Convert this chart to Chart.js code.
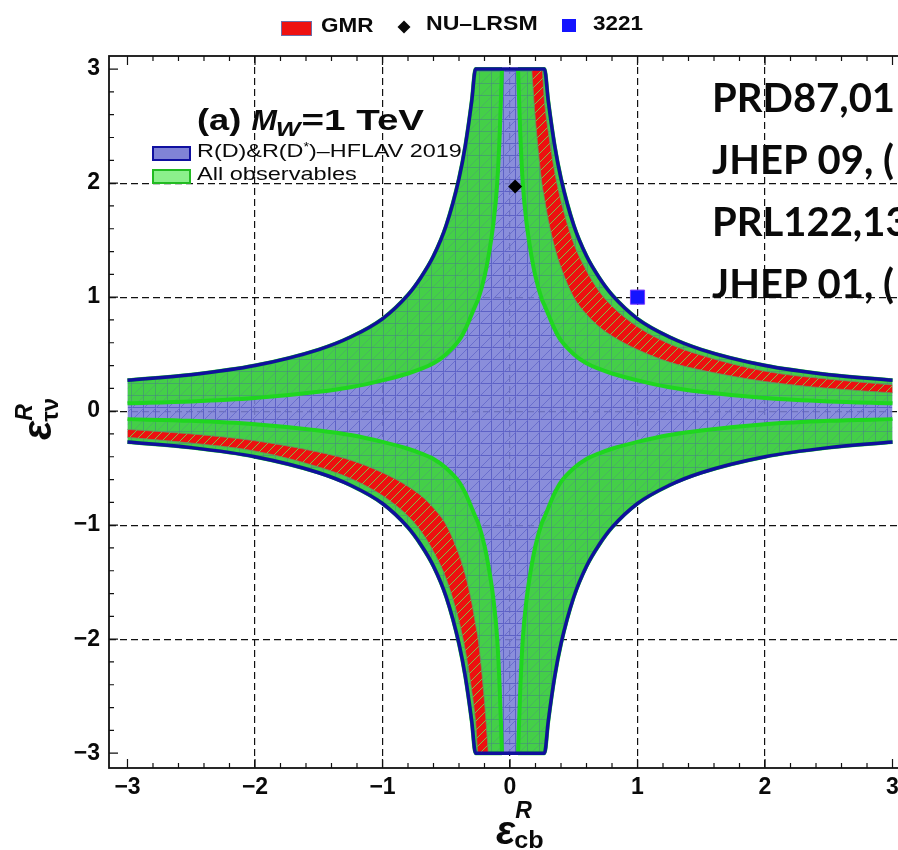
<!DOCTYPE html>
<html>
<head>
<meta charset="utf-8">
<script src="https://cdn.jsdelivr.net/npm/chart.js@4.4.1/dist/chart.umd.min.js"></script>
<style>
  html, body { margin: 0; padding: 0; background: #fff; overflow: hidden; }
  #wrap { width: 923px; height: 850px; }
</style>
</head>
<body>
<div id="wrap"><canvas id="regionChart" width="923" height="850"></canvas></div>
<script>
// boundaries for x > 0 (first quadrant);
// the other quadrants are mirrored copies of the same samples
const xGrid      = [0.063, 0.08, 0.1, 0.13, 0.17, 0.2, 0.25, 0.27, 0.3, 0.35, 0.4, 0.5, 0.6, 0.7, 0.8, 1.0, 1.25, 1.5, 2.0, 2.5, 3.0];
const outerEdge  = [3, 3, 3, 3, 3, 3, 3, 3, 2.72, 2.33, 2.04, 1.63, 1.36, 1.17, 1.02, 0.81, 0.65, 0.54, 0.40, 0.32, 0.27];
const greenInner = [3, 2.45, 2.0, 1.65, 1.35, 1.18, 0.98, 0.93, 0.85, 0.72, 0.62, 0.50, 0.42, 0.37, 0.33, 0.27, 0.21, 0.17, 0.115, 0.085, 0.07];

const xRed     = [0.17, 0.2, 0.25, 0.27, 0.3, 0.35, 0.4, 0.5, 0.6, 0.7, 0.8, 1.0, 1.25, 1.5, 2.0, 2.5, 3.0];
const redOuter = [3, 3, 3, 2.72, 2.45, 2.10, 1.84, 1.47, 1.23, 1.05, 0.92, 0.74, 0.59, 0.49, 0.35, 0.28, 0.23];
const redInner = [3, 2.55, 2.0, 1.87, 1.68, 1.44, 1.26, 1.00, 0.85, 0.74, 0.66, 0.54, 0.43, 0.36, 0.26, 0.20, 0.16];

const nuLrsm = [0.04, 1.97];
const model3221 = [1.0, 1.0];

const tickValues = [-3, -2, -1, 0, 1, 2, 3];
const tickLabels = ['−3', '−2', '−1', '0', '1', '2', '3'];
const refLines = ['PRD87,01', 'JHEP 09, (', 'PRL122,13', 'JHEP 01, ('];

function pts(xs, ys, sx, sy) {
  const p = xs.map((x, i) => ({ x: sx * x, y: sy * ys[i] }));
  return sx < 0 ? p.reverse() : p;
}

function meshPattern(base, line, diag) {
  const c = document.createElement('canvas');
  c.width = 12; c.height = 12;
  const g = c.getContext('2d');
  g.fillStyle = base; g.fillRect(0, 0, 12, 12);
  g.strokeStyle = line; g.lineWidth = 1;
  g.beginPath();
  g.moveTo(0, 11.5); g.lineTo(12, 11.5);
  g.moveTo(11.5, 0); g.lineTo(11.5, 12);
  g.stroke();
  g.strokeStyle = diag;
  g.beginPath(); g.moveTo(0, 12); g.lineTo(12, 0); g.stroke();
  return g.createPattern(c, 'repeat');
}

function stripePattern() {
  const c = document.createElement('canvas');
  c.width = 9; c.height = 9;
  const g = c.getContext('2d');
  g.fillStyle = '#ee1010'; g.fillRect(0, 0, 9, 9);
  g.strokeStyle = '#7fbf45'; g.lineWidth = 1;
  g.beginPath(); g.moveTo(0, 9); g.lineTo(9, 0); g.stroke();
  return g.createPattern(c, 'repeat');
}

const bluePat = meshPattern('rgba(122,126,214,0.88)', '#5d61c6', '#6a6ecd');
const greenPat = meshPattern('#44cf48', 'rgba(70,135,130,0.55)', 'rgba(80,150,120,0.45)');
const redPat = stripePattern();

const blueTop = pts(xGrid, outerEdge, -1, 1).concat(pts(xGrid, outerEdge, 1, 1));
const blueBottom = blueTop.map(p => ({ x: p.x, y: -p.y }));

const curve = { pointRadius: 0, cubicInterpolationMode: 'monotone', showLine: true };
const datasets = [
  { ...curve, data: blueBottom, borderWidth: 0, fill: false, order: 9 },
  { ...curve, data: blueTop, borderWidth: 0, fill: '-1', backgroundColor: bluePat, order: 9 }
];

const quadrants = [[1, 1, true], [-1, 1, false], [-1, -1, true], [1, -1, false]];
quadrants.forEach(([sx, sy, withRed]) => {
  datasets.push({ ...curve, data: pts(xGrid, greenInner, sx, sy), borderColor: '#1fd61f', borderWidth: 4, fill: false, order: 7 });
  datasets.push({ ...curve, data: pts(xGrid, outerEdge, sx, sy), borderColor: '#1fd61f', borderWidth: 4, fill: '-1', backgroundColor: greenPat, order: 7 });
  if (withRed) {
    datasets.push({ ...curve, data: pts(xRed, redInner, sx, sy), borderColor: 'rgba(110,140,100,0.8)', borderWidth: 1, fill: false, order: 5 });
    datasets.push({ ...curve, data: pts(xRed, redOuter, sx, sy), borderColor: 'rgba(110,140,100,0.8)', borderWidth: 1, fill: '-1', backgroundColor: redPat, order: 5 });
  }
});

datasets.push({ ...curve, data: blueTop, borderColor: '#10109c', borderWidth: 3.5, fill: false, order: 3 });
datasets.push({ ...curve, data: blueBottom, borderColor: '#10109c', borderWidth: 3.5, fill: false, order: 3 });

datasets.push({ data: [{ x: nuLrsm[0], y: nuLrsm[1] }], showLine: false, pointStyle: 'rectRot', pointRadius: 7, backgroundColor: '#000', borderWidth: 0, order: 1 });
datasets.push({ data: [{ x: model3221[0], y: model3221[1] }], showLine: false, pointStyle: 'rect', pointRadius: 10, backgroundColor: '#1414ff', borderColor: '#7a3cff', borderWidth: 1, order: 1 });

function txt(ctx, str, x, y, font, sx) {
  ctx.save();
  ctx.font = font;
  ctx.translate(x, y);
  ctx.scale(sx, 1);
  ctx.fillText(str, 0, 0);
  const w = ctx.measureText(str).width * sx;
  ctx.restore();
  return w;
}

const decor = {
  id: 'decor',
  afterDatasetsDraw(chart) {
    const { ctx, chartArea: a, scales } = chart;
    ctx.save();
    ctx.strokeStyle = '#111';
    ctx.lineWidth = 1.2;
    ctx.beginPath();
    for (let i = -15; i <= 15; i++) {
      const len = i % 5 === 0 ? 9 : 5;
      const px = scales.x.getPixelForValue(i / 5);
      const py = scales.y.getPixelForValue(i / 5);
      ctx.moveTo(px, a.bottom); ctx.lineTo(px, a.bottom - len);
      ctx.moveTo(px, a.top); ctx.lineTo(px, a.top + len);
      ctx.moveTo(a.left, py); ctx.lineTo(a.left + len, py);
      ctx.moveTo(a.right, py); ctx.lineTo(a.right - len, py);
    }
    ctx.stroke();
    ctx.lineWidth = 1.8;
    ctx.strokeRect(a.left, a.top, a.right - a.left, a.bottom - a.top);
    ctx.restore();
  },
  afterDraw(chart) {
    const ctx = chart.ctx;
    ctx.save();
    ctx.fillStyle = '#0a0a0a';
    ctx.textBaseline = 'alphabetic';

    // top legend
    ctx.fillStyle = '#ee1111';
    ctx.fillRect(281, 21, 31, 15);
    ctx.strokeStyle = '#6e6ea8'; ctx.lineWidth = 1;
    ctx.strokeRect(281.5, 21.5, 30, 14);
    ctx.fillStyle = '#0a0a0a';
    txt(ctx, 'GMR', 321, 32, 'bold 21px "Liberation Sans"', 1.07);
    ctx.beginPath();
    ctx.moveTo(404, 20.5); ctx.lineTo(410.5, 27); ctx.lineTo(404, 33.5); ctx.lineTo(397.5, 27); ctx.closePath();
    ctx.fill();
    txt(ctx, 'NU–LRSM', 426, 29.5, 'bold 21px "Liberation Sans"', 1.1);
    ctx.fillStyle = '#1414ff';
    ctx.fillRect(562, 19, 14, 13);
    ctx.fillStyle = '#0a0a0a';
    txt(ctx, '3221', 593, 29.5, 'bold 21px "Liberation Sans"', 1.07);

    // panel label
    let x = 197;
    x += txt(ctx, '(a) ', x, 130, 'bold 29px "Liberation Sans"', 1.25);
    x += txt(ctx, 'M', x, 130, 'bold italic 29px "Liberation Sans"', 1.05);
    x += txt(ctx, 'W', x - 1, 136, 'bold italic 21px "Liberation Sans"', 1.25);
    txt(ctx, '=1 TeV', x, 130, 'bold 29px "Liberation Sans"', 1.33);

    // inner legend
    ctx.fillStyle = '#8083d6';
    ctx.fillRect(152, 146, 39, 15);
    ctx.strokeStyle = '#1010a0'; ctx.lineWidth = 2;
    ctx.strokeRect(153, 147, 37, 13);
    ctx.fillStyle = '#8cf08c';
    ctx.fillRect(152, 169, 39, 15);
    ctx.strokeStyle = '#22bb22';
    ctx.strokeRect(153, 170, 37, 13);
    ctx.fillStyle = '#0a0a0a';
    x = 197;
    x += txt(ctx, 'R(D)&R(D', x, 157, '19px "Liberation Sans"', 1.23);
    x += txt(ctx, '*', x, 151, '13px "Liberation Sans"', 1.1);
    txt(ctx, ')–HFLAV 2019', x, 157, '19px "Liberation Sans"', 1.23);
    txt(ctx, 'All observables', 197, 180, '19px "Liberation Sans"', 1.24);

    // references at the right
    refLines.forEach((s, i) => {
      txt(ctx, s, 712, 112 + i * 62, 'bold 40px Lato', 1.0);
    });

    // x axis title
    let w = txt(ctx, 'ε', 496, 844, 'bold italic 40px "Liberation Sans"', 1.0);
    txt(ctx, 'R', 496 + w, 818, 'bold italic 23px "Liberation Sans"', 1.0);
    txt(ctx, 'cb', 496 + w - 1, 848, 'bold 24px "Liberation Sans"', 1.05);

    // y axis title (rotated)
    ctx.translate(51, 440);
    ctx.rotate(-Math.PI / 2);
    w = txt(ctx, 'ε', 0, 0, 'bold italic 40px "Liberation Sans"', 1.0);
    txt(ctx, 'R', w, -19, 'bold italic 23px "Liberation Sans"', 1.0);
    txt(ctx, 'τν', w - 1, 7, 'bold 24px "Liberation Sans"', 1.0);
    ctx.restore();
  }
};

function gridColor(c) {
  const v = c.tick ? c.tick.value : null;
  return (v !== null && Math.abs(v) <= 2) ? '#111' : 'rgba(0,0,0,0)';
}

const axisFont = { family: '"Liberation Sans"', size: 23, weight: 'bold' };

new Chart(document.getElementById('regionChart').getContext('2d'), {
  type: 'line',
  data: { datasets: datasets },
  options: {
    responsive: false,
    animation: false,
    events: [],
    layout: { padding: { top: 56, right: 12, left: 0, bottom: 0 } },
    plugins: {
      legend: { display: false },
      tooltip: { enabled: false },
      filler: { propagate: false }
    },
    scales: {
      x: {
        type: 'linear',
        min: -3.145, max: 3.145,
        afterFit(scale) { scale.height = 82; },
        grid: { color: gridColor, lineWidth: 1.2, drawTicks: false },
        border: { display: false, dash: [7, 4] },
        ticks: {
          stepSize: 1, includeBounds: false, autoSkip: false, maxRotation: 0,
          padding: 6, color: '#0a0a0a', font: axisFont,
          callback: v => { const i = tickValues.indexOf(v); return i >= 0 ? tickLabels[i] : ''; }
        }
      },
      y: {
        type: 'linear',
        min: -3.13, max: 3.115,
        afterFit(scale) { scale.width = 109; },
        grid: { color: gridColor, lineWidth: 1.2, drawTicks: false },
        border: { display: false, dash: [7, 4] },
        ticks: {
          stepSize: 1, includeBounds: false, autoSkip: false,
          padding: 9, color: '#0a0a0a', font: axisFont,
          callback: v => { const i = tickValues.indexOf(v); return i >= 0 ? tickLabels[i] : ''; }
        }
      }
    }
  },
  plugins: [decor]
});
</script>
</body>
</html>
